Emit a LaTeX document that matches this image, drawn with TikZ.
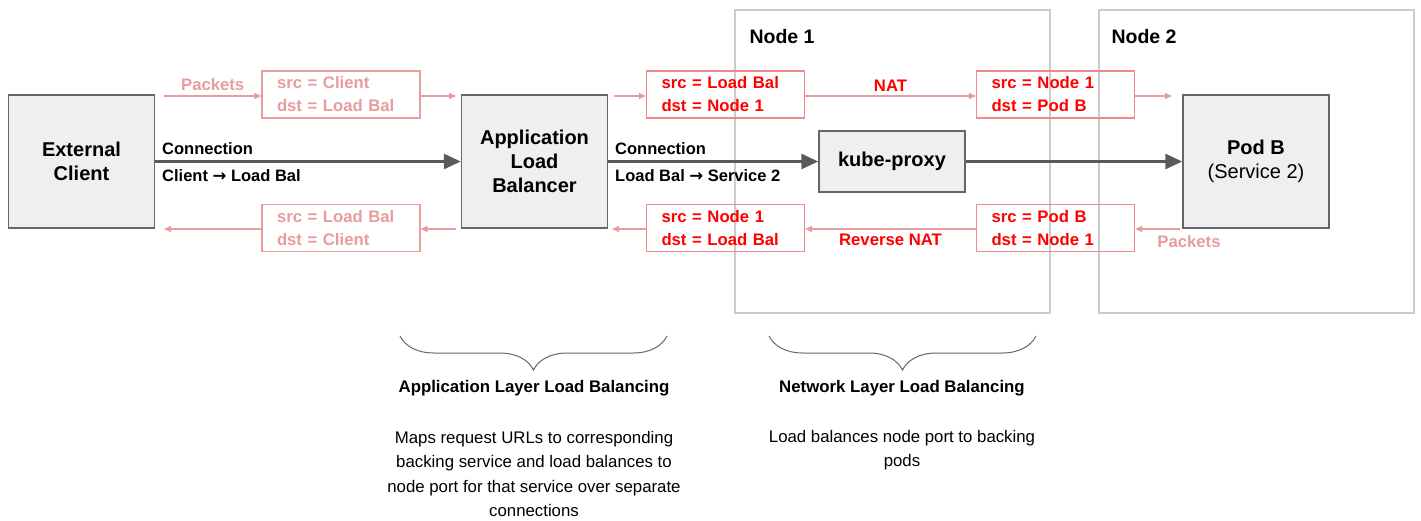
\documentclass[tikz,border=0pt]{standalone}
\usepackage{fontspec}
\setmainfont{Liberation Sans}
\newfontfamily\arrowfont{DejaVu Sans}
\usetikzlibrary{arrows.meta,decorations.pathreplacing}

\definecolor{boxfill}{HTML}{EFEFEF}
\definecolor{boxline}{HTML}{666666}
\definecolor{hostline}{HTML}{CCCCCC}
\definecolor{fadepink}{HTML}{E89C9C}
\definecolor{pktred}{HTML}{FF0000}
\definecolor{pktline}{HTML}{F08A8A}
\definecolor{conn}{HTML}{5A5A5A}

\newcommand{\flowto}{{\arrowfont\bfseries →}}

\tikzset{
  box/.style={draw=boxline, fill=boxfill, line width=1.5pt, minimum width=146pt,
    minimum height=133pt, align=center, font=\bfseries\fontsize{20}{24}\selectfont},
  hostbox/.style={draw=hostline, line width=2pt, minimum width=315pt, minimum height=303pt},
  hostlabel/.style={anchor=west, font=\bfseries\fontsize{19.5}{22}\selectfont},
  pkt/.style={minimum height=47pt, text width=128pt, inner xsep=15pt, inner ysep=0pt,
    align=left, line width=1.2pt, font=\bfseries\fontsize{16.7}{23}\selectfont},
  pktfade/.style={pkt, draw=fadepink, text=fadepink},
  pktlive/.style={pkt, draw=pktline, text=pktred},
  flow/.style={draw=fadepink, line width=1.3pt, -{Triangle[length=7pt,width=6pt]}},
  flowlabel/.style={font=\bfseries\fontsize{16.7}{20}\selectfont},
  connect/.style={draw=conn, line width=3pt, -{Triangle[length=17pt,width=15pt]}},
  connlabel/.style={anchor=west, inner sep=0pt, font=\bfseries\fontsize{16.5}{20}\selectfont},
  bracket/.style={draw=boxline, line width=1pt, decorate, decoration={brace, mirror, amplitude=34pt}},
  layertitle/.style={font=\bfseries\fontsize{16.8}{22}\selectfont},
  layertext/.style={align=center, font=\fontsize{16.8}{24.5}\selectfont}
}

\begin{document}
\begin{tikzpicture}[x=1pt,y=-1pt]
\useasboundingbox (0,0) rectangle (1421,521);

% hosts
\node[hostbox] (node1) at (892.5,161.5) {};
\node[hostbox] (node2) at (1256.5,161.5) {};
\node[hostlabel] (node1lbl) at (746,37) {Node 1};
\node[hostlabel] (node2lbl) at (1108,37) {Node 2};

% main boxes
\node[box] (client) at (81.5,161.5) {External\\Client};
\node[box] (alb) at (534.5,161.5) {Application\\Load\\Balancer};
\node[box, minimum height=61pt] (proxy) at (892,161.5) {kube-proxy};
\node[box] (podb) at (1256,161.5) {Pod B\\{\mdseries(Service 2)}};

% packets
\node[pktfade] (out1) at (341,94.5) {src = Client\\dst = Load Bal};
\node[pktfade] (back1) at (341,228) {src = Load Bal\\dst = Client};
\node[pktlive] (out2) at (725.5,94.5) {src = Load Bal\\dst = Node 1};
\node[pktlive] (back2) at (725.5,228) {src = Node 1\\dst = Load Bal};
\node[pktlive] (out3) at (1055.5,94.5) {src = Node 1\\dst = Pod B};
\node[pktlive] (back3) at (1055.5,228) {src = Pod B\\dst = Node 1};

% free ends
\coordinate (a1) at (164,96);
\coordinate (a2) at (456,96);
\coordinate (a3) at (614,96);
\coordinate (a4) at (1172,96);
\coordinate (b1) at (164,229);
\coordinate (b2) at (456,229);
\coordinate (b3) at (612,229);
\coordinate (b4) at (1180,229);

\draw[flow] (a1) -- node[flowlabel, above=1pt, text=fadepink] {Packets} (out1.west |- a1);
\draw[flow] (out1.east |- a2) -- (a2);
\draw[flow] (a3) -- (out2.west |- a3);
\draw[flow] (out2.east |- a3) -- node[flowlabel, above=1pt, text=pktred] {NAT} (out3.west |- a3);
\draw[flow] (out3.east |- a4) -- (a4);

\draw[flow] (b2) -- (back1.east |- b2);
\draw[flow] (back1.west |- b1) -- (b1);
\draw[flow] (back2.west |- b3) -- (b3);
\draw[flow] (back3.west |- b3) -- node[flowlabel, below=1pt, text=pktred] {Reverse NAT} (back2.east |- b3);
\draw[flow] (b4) -- (back3.east |- b4);
\node[flowlabel, text=fadepink] (pktlbl) at (1189,242) {Packets};

% connections
\draw[connect] (client) -- (alb);
\draw[connect] (alb) -- (proxy);
\draw[connect] (proxy) -- (podb);
\node[connlabel] (c1top) at (162,149) {Connection};
\node[connlabel] (c1bot) at (162,176) {Client \flowto{} Load Bal};
\node[connlabel] (c2top) at (615,149) {Connection};
\node[connlabel] (c2bot) at (615,176) {Load Bal \flowto{} Service 2};

% layers
\draw[bracket] (400,336) -- (667,336);
\draw[bracket] (769,336) -- (1036,336);
\node[layertitle] (applayer) at (534,388) {Application Layer Load Balancing};
\node[layertitle] (netlayer) at (902,388) {Network Layer Load Balancing};
\node[layertext] (apptext) at (534,474) {Maps request URLs to corresponding\\backing service and load balances to\\node port for that service over separate\\connections};
\node[layertext] (nettext) at (902,450) {Load balances node port to backing\\pods};
\end{tikzpicture}
\end{document}
